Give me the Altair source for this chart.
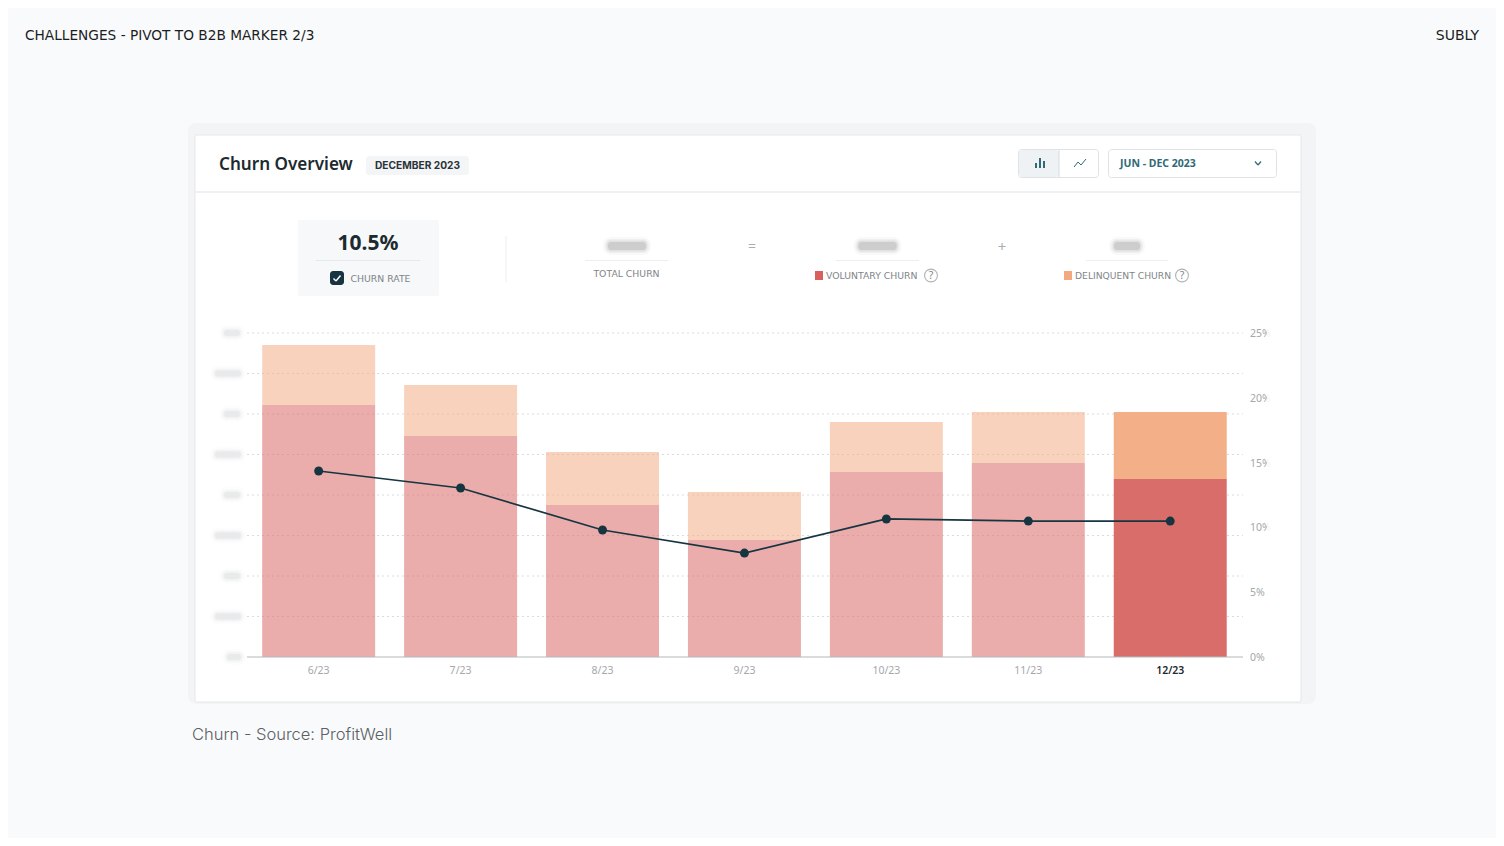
import altair as alt
import pandas as pd

months = ["6/23", "7/23", "8/23", "9/23", "10/23", "11/23", "12/23"]
voluntary = [3111, 2728, 1877, 1444, 2284, 2395, 2198]
delinquent = [741, 630, 654, 593, 617, 630, 827]
churn_rate = [14.35, 13.04, 9.8, 8.02, 10.65, 10.49, 10.49]
left_ticks = [0, 500, 1000, 1500, 2000, 2500, 3000, 3500, 4000]
left_blob_widths = [14, 26, 16, 26, 16, 26, 16, 26, 16]
left_blob_centres = [234, 228, 232, 228, 232, 228, 232, 228, 232]
right_ticks = [0, 5, 10, 15, 20, 25]

BG = "#f9fafb"
DARK = "#163540"
GREY = "#7f8589"
SANS = "Noto Sans"
WIDE = "DejaVu Sans"
X_RANGE = [239.7, 1233.2]
Y_RANGE = [649, 325]
x_scale = alt.Scale(domain=months, range=X_RANGE, paddingInner=0.204, paddingOuter=0.102)
x_enc = alt.X("month:N", scale=x_scale, axis=None, sort=months)
y_left = alt.Scale(domain=[0, 4000], range=Y_RANGE)
y_right = alt.Scale(domain=[0, 25], range=Y_RANGE)

one = alt.Data(values=[{"a": 1}])
def P(v):
    return alt.value(v - 8)

def rect(x0, y0, x1, y1, fill, stroke=None, radius=0, opacity=1.0):
    kw = dict(fill=fill, cornerRadius=radius, opacity=opacity)
    if stroke:
        kw.update(stroke=stroke, strokeWidth=1)
    return alt.Chart(one).mark_rect(**kw).encode(x=P(x0), x2=P(x1), y=P(y0), y2=P(y1))

def seg(x0, y0, x1, y1, color, width=1.0, dash=None):
    kw = dict(color=color, strokeWidth=width)
    if dash:
        kw["strokeDash"] = dash
    return alt.Chart(one).mark_rule(**kw).encode(x=P(x0), x2=P(x1), y=P(y0), y2=P(y1))

def label(s, x, y, size, color, weight=400, align="left", font=SANS, baseline="middle"):
    return alt.Chart(one).mark_text(
        text=s, fontSize=size, color=color, fontWeight=weight, align=align, baseline=baseline, font=font
    ).encode(x=P(x), y=P(y))

def blob(cx, cy, w, h, color="#7a8084", strength=1.0):
    out = []
    for grow, a in [(5, 0.06), (3, 0.10), (1.5, 0.16), (0, 0.24)]:
        out.append(rect(cx - w / 2 - grow, cy - h / 2 - grow, cx + w / 2 + grow, cy + h / 2 + grow,
                        color, radius=3 + grow, opacity=a * strength))
    return out

def help_icon(cx, cy):
    return [
        alt.Chart(one).mark_point(shape="circle", size=165, filled=False, color="#8f9498", strokeWidth=1.1).encode(x=P(cx), y=P(cy)),
        label("?", cx, cy + 0.5, 10.5, "#7f8589", align="center"),
    ]

layers = []
# page
layers.append(rect(0, 0, 1504, 846, BG))
layers.append(label("CHALLENGES - PIVOT TO B2B MARKER 2/3", 25, 35.5, 13.7, "#1b1d1f", font=WIDE))
layers.append(label("SUBLY", 1479, 35.5, 14, "#1b1d1f", align="right", font=WIDE))
layers.append(label("Churn - Source: ProfitWell", 192, 735, 16.5, "#5a6066", weight=300, font="Inter"))
# card
layers.append(rect(188, 123, 1316, 704, "#f2f4f5", radius=8))
layers.append(rect(195, 135, 1301, 702, "#ffffff", stroke="#e4e7e9", radius=2))
layers.append(seg(195, 192, 1301, 192, "#e8ebed", 1.5))
# header
layers.append(label("Churn Overview", 219, 165, 17.1, "#1d2a30", weight=600))
layers.append(rect(366, 156, 469, 175, "#f3f5f6", radius=3))
layers.append(label("DECEMBER 2023", 417.5, 165.5, 10.2, "#2b3338", weight=700, align="center", font="Inter"))
layers.append(rect(1018.5, 149.5, 1098.5, 177.5, "#ffffff", stroke="#dfe3e6", radius=3))
layers.append(rect(1019, 150, 1059, 177, "#eff2f4", radius=3))
layers.append(seg(1059, 150, 1059, 177, "#d5dadd"))
for bx, by in [(1036, 163), (1040, 158), (1044, 161)]:
    layers.append(seg(bx, by, bx, 168, "#2f6a76", 2))
for a, b, c, d in [(1074, 167, 1078, 162), (1078, 162, 1081, 165), (1081, 165, 1086, 159)]:
    layers.append(seg(a, b, c, d, "#2f6a76", 1))
layers.append(rect(1108.5, 149.5, 1276.5, 177.5, "#ffffff", stroke="#dfe3e6", radius=3))
layers.append(label("JUN - DEC 2023", 1120, 164, 10.5, "#2f6a76", weight=700))
layers.append(seg(1255, 161.5, 1258, 165, "#2f6a76", 1.2))
layers.append(seg(1258, 165, 1261, 161.5, "#2f6a76", 1.2))
# KPI row
layers.append(rect(298, 220, 439, 296, "#f6f8f9", radius=2))
layers.append(label("10.5%", 368, 244, 21, "#1d2a30", weight=700, align="center"))
layers.append(seg(316, 260.5, 420, 260.5, "#e6e9eb"))
layers.append(rect(330, 271, 344, 285, DARK, radius=3))
layers.append(seg(333.5, 278.5, 336, 281, "#ffffff", 1.4))
layers.append(seg(336, 281, 340.5, 275.5, "#ffffff", 1.4))
layers.append(label("CHURN RATE", 350.5, 278.5, 9.3, GREY, font=WIDE))
layers.append(seg(506, 236, 506, 282, "#eceef0"))
layers.extend(blob(627, 246, 38, 8, strength=0.8))
layers.append(seg(585, 260.5, 668, 260.5, "#eceef0"))
layers.append(label("TOTAL CHURN", 626.5, 274, 9.3, GREY, align="center", font=WIDE))
layers.append(label("=", 752, 247, 14, "#a9aeb2", align="center"))
layers.extend(blob(877.5, 246, 38, 8, strength=0.8))
layers.append(seg(836, 260.5, 919, 260.5, "#eceef0"))
layers.append(rect(815, 271, 823, 280, "#d9605c"))
layers.append(label("VOLUNTARY CHURN", 826, 275.5, 9.3, GREY, font=WIDE))
layers.extend(help_icon(931, 275.5))
layers.append(label("+", 1002, 247, 15, "#a9aeb2", align="center"))
layers.extend(blob(1127, 246, 26, 8, strength=0.8))
layers.append(seg(1086, 260.5, 1168, 260.5, "#eceef0"))
layers.append(rect(1064, 271, 1072, 280, "#f2a97e"))
layers.append(label("DELINQUENT CHURN", 1075, 275.5, 9.2, GREY, font=WIDE))
layers.extend(help_icon(1182, 275.5))

# gridlines and left-hand tick blobs
grid_df = pd.DataFrame({"tick": left_ticks[1:]})
layers.append(alt.Chart(grid_df).mark_rule(color="#d9dcdf", strokeWidth=1, strokeDash=[2, 3]).encode(
    y=alt.Y("tick:Q", scale=y_left, axis=None), x=P(247), x2=P(1243)))
for tick, w, c in zip(left_ticks, left_blob_widths, left_blob_centres):
    cy = 657 - tick * 324 / 4000
    layers.extend(blob(c, cy, w, 6, color="#9aa0a4", strength=0.42))

# bars
bar_df = pd.DataFrame({
    "month": months * 2,
    "kind": ["Voluntary"] * 7 + ["Delinquent"] * 7,
    "rank": [0] * 7 + [1] * 7,
    "value": voluntary + delinquent,
})
layers.append(alt.Chart(bar_df).mark_bar().encode(
    x=x_enc,
    y=alt.Y("value:Q", stack="zero", scale=y_left, axis=None),
    order=alt.Order("rank:Q"),
    color=alt.Color("kind:N", legend=None,
                    scale=alt.Scale(domain=["Voluntary", "Delinquent"], range=["#d96d69", "#f2af88"])),
    opacity=alt.condition(alt.datum.month == "12/23", alt.value(1.0), alt.value(0.56)),
))
layers.append(seg(247, 657, 1243, 657, "#b4b8bb", 1.2))

# churn rate
rate_df = pd.DataFrame({"month": months, "rate": churn_rate})
y_rate = alt.Y("rate:Q", scale=y_right, axis=None)
layers.append(alt.Chart(rate_df).mark_line(color=DARK, strokeWidth=1.7).encode(x=x_enc, y=y_rate))
layers.append(alt.Chart(rate_df).mark_point(filled=True, color=DARK, size=80, opacity=1).encode(x=x_enc, y=y_rate))

# x tick labels
tick_df = pd.DataFrame({"month": months})
layers.append(alt.Chart(tick_df).transform_filter(alt.datum.month != "12/23").mark_text(
    fontSize=10.5, font=SANS, baseline="middle", color="#a3a8ab").encode(x=x_enc, y=P(670.5), text="month:N"))
layers.append(alt.Chart(tick_df).transform_filter(alt.datum.month == "12/23").mark_text(
    fontSize=10.5, font=SANS, baseline="middle", color="#1d2a30", fontWeight=600).encode(x=x_enc, y=P(670.5), text="month:N"))
# right tick labels
right_df = pd.DataFrame({"tick": right_ticks, "name": [f"{t}%" for t in right_ticks]})
layers.append(alt.Chart(right_df).mark_text(fontSize=10.5, font=SANS, align="left", baseline="middle",
                                            color="#a3a8ab", dy=1).encode(
    y=alt.Y("tick:Q", scale=y_right, axis=None), x=P(1250), text="name:N"))
for i in range(2, 6):
    cy = 657 - right_ticks[i] * 324 / 25
    layers.append(rect(1267, cy - 7, 1277, cy + 7, "#ffffff", radius=4, opacity=0.85))

chart = alt.layer(*layers).resolve_scale(y="independent").properties(
    width=1488, height=830, padding=0, autosize=alt.AutoSizeParams(type="none"), background=BG
).configure_view(stroke=None)

chart.save("out.html", embed_options={"renderer": "svg", "actions": False})
